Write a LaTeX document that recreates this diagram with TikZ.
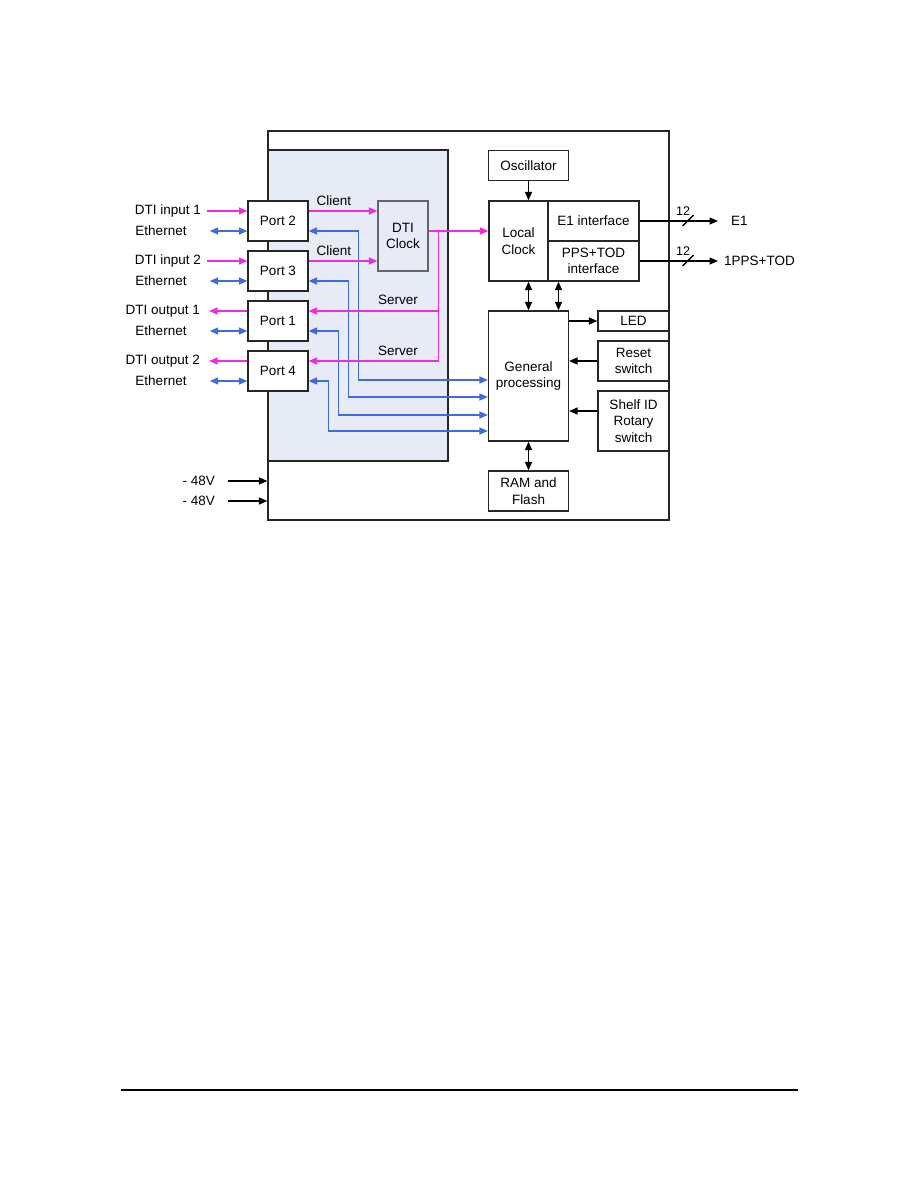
\documentclass[tikz,border=0pt]{standalone}
\usepackage{fontspec}
\setmainfont{Liberation Sans}
\usetikzlibrary{arrows.meta}
\definecolor{dtimag}{RGB}{238,45,225}
\definecolor{ethblue}{RGB}{62,108,222}
\definecolor{areafill}{RGB}{231,235,245}
\begin{document}
\begin{tikzpicture}[x=1pt, y=-1pt, font=\fontsize{13.5}{16.5}\selectfont,
  box/.style={draw=black!85, line width=1.2pt, fill=white, align=center, inner sep=1pt},
  lbl/.style={inner sep=2pt},
  link/.style={line width=1.4pt, -{Triangle[length=8.5pt,width=7pt]}},
  both/.style={line width=1.4pt, {Triangle[length=8.5pt,width=7pt]}-{Triangle[length=8.5pt,width=7pt]}},
  dti/.style={link, dtimag},
  eth/.style={both, ethblue}]
\useasboundingbox (0,0) rectangle (918,1188);

% board and DTI area
\node[draw=black!85, line width=1.2pt, minimum width=401pt, minimum height=389pt, inner sep=0pt] (board) at (468.5,325.5) {};
\node[draw=black!85, line width=1.2pt, fill=areafill, minimum width=180pt, minimum height=311pt, inner sep=0pt] (area) at (358,305.5) {};

% ports
\node[box, minimum width=60pt, minimum height=40pt] (port2) at (278,221) {Port 2};
\node[box, minimum width=60pt, minimum height=40pt] (port3) at (278,271) {Port 3};
\node[box, minimum width=60pt, minimum height=40pt] (port1) at (278,321) {Port 1};
\node[box, minimum width=60pt, minimum height=40pt] (port4) at (278,371) {Port 4};
\node[box, draw=black!60, fill=areafill, minimum width=50pt, minimum height=70pt] (dticlk) at (403,236) {DTI\\Clock};

% clock and processing blocks
\node[box, minimum width=80pt, minimum height=30pt] (osc) at (528.5,165.5) {Oscillator};
\node[box, minimum width=59pt, minimum height=80pt] (lclk) at (518.5,241) {Local\\Clock};
\node[box, minimum width=91pt, minimum height=40pt] (e1if) at (593.5,221) {E1 interface};
\node[box, minimum width=91pt, minimum height=40pt] (ppsif) at (593.5,261) {PPS+TOD\\interface};
\node[box, minimum width=80pt, minimum height=130pt] (gp) at (528.5,376) {General\\processing};
\node[box, minimum width=80pt, minimum height=40pt] (ram) at (528.5,491) {RAM and\\Flash};
\node[box, minimum width=71pt, minimum height=20pt] (led) at (633.5,321) {LED};
\node[box, minimum width=71pt, minimum height=40pt] (reset) at (633.5,361) {Reset\\switch};
\node[box, minimum width=71pt, minimum height=60pt] (shelf) at (633.5,421) {Shelf ID\\Rotary\\switch};

% outside labels
\node[lbl, anchor=east] (in1) at (203,211) {DTI input 1};
\node[lbl] (eth2l) at (161,231) {Ethernet};
\node[lbl, anchor=east] (in2) at (203,261) {DTI input 2};
\node[lbl] (eth3l) at (161,281) {Ethernet};
\node[lbl, anchor=east] (out1) at (202,311) {DTI output 1};
\node[lbl] (eth1l) at (161,331) {Ethernet};
\node[lbl, anchor=east] (out2) at (202,361) {DTI output 2};
\node[lbl] (eth4l) at (161,381) {Ethernet};
\node[lbl, anchor=east] (v1) at (217,481) {- 48V};
\node[lbl, anchor=east] (v2) at (217,501) {- 48V};
\node[lbl, anchor=west] (e1out) at (729,221) {E1};
\node[lbl, anchor=west] (ppsout) at (722,261) {1PPS+TOD};
\node[lbl, font=\fontsize{12.5}{14}\selectfont] (n12a) at (683,211) {12};
\node[lbl, font=\fontsize{12.5}{14}\selectfont] (n12b) at (683,251) {12};

% link labels
\node[lbl] (cli1) at (334,201) {Client};
\node[lbl] (cli2) at (334,251) {Client};
\node[lbl] (srv1) at (398,300) {Server};
\node[lbl] (srv2) at (398,351) {Server};

% DTI inputs and outputs
\draw[dti] ([xshift=4pt]in1.east) -- ([yshift=10pt]port2.west);
\draw[dti] ([xshift=4pt]in2.east) -- ([yshift=10pt]port3.west);
\draw[dti] ([yshift=10pt]port1.west) -- ([xshift=7pt]out1.east);
\draw[dti] ([yshift=10pt]port4.west) -- ([xshift=7pt]out2.east);

% Ethernet
\draw[eth] ([xshift=21pt]eth2l.east) -- ([yshift=-10pt]port2.west);
\draw[eth] ([xshift=21pt]eth3l.east) -- ([yshift=-10pt]port3.west);
\draw[eth] ([xshift=21pt]eth1l.east) -- ([yshift=-10pt]port1.west);
\draw[eth] ([xshift=21pt]eth4l.east) -- ([yshift=-10pt]port4.west);

% ports to processing
\draw[eth] ([yshift=-10pt]port2.east) -- ++(50,0) |- ([yshift=-4pt]gp.west);
\draw[eth] ([yshift=-10pt]port3.east) -- ++(40,0) |- ([yshift=-21pt]gp.west);
\draw[eth] ([yshift=-10pt]port1.east) -- ++(30,0) |- ([yshift=-39pt]gp.west);
\draw[eth] ([yshift=-10pt]port4.east) -- ++(20,0) |- ([yshift=-55pt]gp.west);

% client and server paths
\draw[dti] ([yshift=10pt]port2.east) -- ([yshift=25pt]dticlk.west);
\draw[dti] ([yshift=10pt]port3.east) -- ([yshift=-25pt]dticlk.west);
\coordinate (srv) at ([xshift=10pt,yshift=5pt]dticlk.east);
\draw[dti] ([yshift=5pt]dticlk.east) -- ([yshift=10pt]lclk.west);
\draw[dti] (srv) |- ([yshift=10pt]port1.east);
\draw[dti] (srv) |- ([yshift=10pt]port4.east);

% clock outputs
\draw[link] (osc.south) -- (osc.south |- lclk.north);
\draw[link, shorten >=11pt] (e1if.east) -- (e1out.west);
\draw[link, shorten >=4pt] (ppsif.east) -- (ppsout.west);
\draw[line width=1.3pt] ([xshift=43pt,yshift=-5pt]e1if.east) -- ++(11,-11);
\draw[line width=1.3pt] ([xshift=43pt,yshift=-5pt]ppsif.east) -- ++(11,-11);

% processing
\draw[both] (gp.north) -- (gp.north |- lclk.south);
\draw[both] ([xshift=30pt]gp.north) -- ([xshift=30pt]gp.north |- ppsif.south);
\draw[link] (gp.east |- led.west) -- (led.west);
\draw[link] (reset.west) -- (gp.east |- reset.west);
\draw[link] ([yshift=10pt]shelf.west) -- ([yshift=10pt]gp.east |- shelf.west);
\draw[both] (gp.south) -- (ram.north);

% power
\draw[link] ([xshift=11pt]v1.east) -- (board.west |- v1.east);
\draw[link] ([xshift=11pt]v2.east) -- (board.west |- v2.east);

% page rule
\draw[line width=1.2pt] (121,1090) -- (798,1090);
\end{tikzpicture}
\end{document}
